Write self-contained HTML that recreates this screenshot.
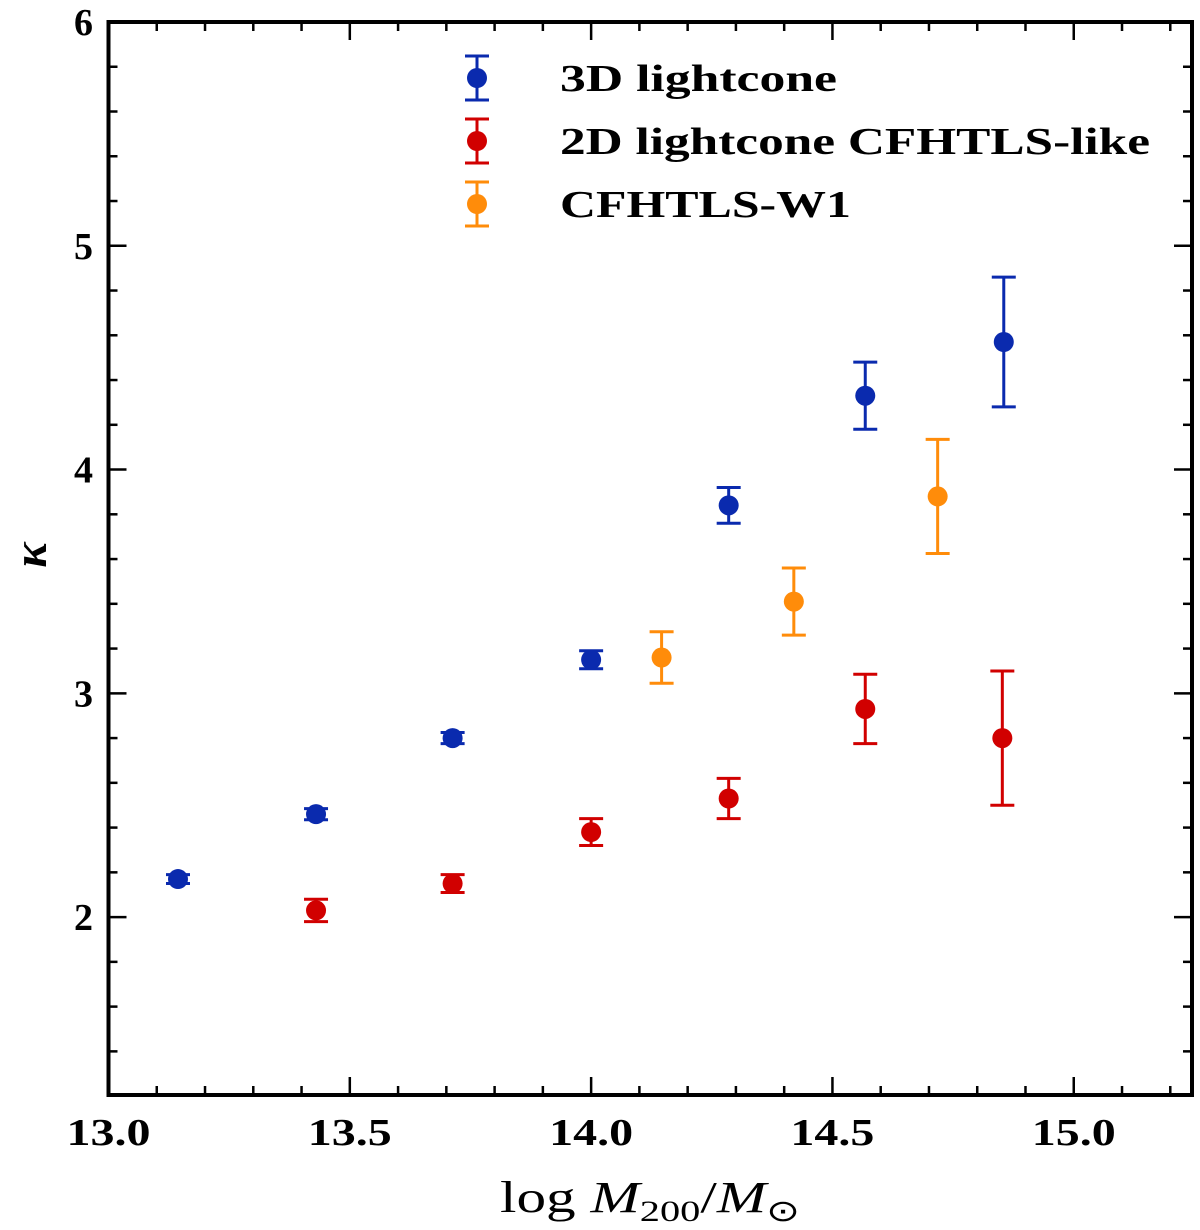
<!DOCTYPE html>
<html><head><meta charset="utf-8"><style>
body{margin:0;background:#fff;}
svg{display:block;font-family:"Liberation Serif",serif;}
</style></head><body>
<svg id="chart" width="1200" height="1230"></svg>
<script>
const xTicks=[13.0,13.5,14.0,14.5,15.0];
const xTickLabels=["13.0","13.5","14.0","14.5","15.0"];
const yTicks=[2,3,4,5,6];
const yTickLabels=["2","3","4","5","6"];
const s3dX=[13.144,13.43,13.713,14.0,14.285,14.568,14.855];
const s3dY=[2.17,2.46,2.80,3.15,3.84,4.33,4.57];
const s3dE=[0.02,0.025,0.025,0.04,0.08,0.15,0.29];
const s2dX=[13.43,13.713,14.0,14.285,14.568,14.852];
const s2dY=[2.03,2.15,2.38,2.53,2.93,2.80];
const s2dE=[0.05,0.04,0.06,0.09,0.155,0.30];
const obsX=[14.146,14.42,14.718];
const obsY=[3.16,3.41,3.88];
const obsE=[0.115,0.15,0.255];

const L=108.5,R=1192,T=22,B=1095,x0=13.0,x1=15.245,y0=1.205,y1=6.0;
const sx=v=>L+(v-x0)/(x1-x0)*(R-L);
const sy=v=>B-(v-y0)/(y1-y0)*(B-T);
const svg=document.getElementById('chart');
const NS='http://www.w3.org/2000/svg';
function mk(tag,attrs,parent){const e=document.createElementNS(NS,tag);for(const k in attrs)e.setAttribute(k,attrs[k]);(parent||svg).appendChild(e);return e;}

const frame=mk('rect',{x:L,y:T,width:R-L,height:B-T,fill:'none',stroke:'#000','stroke-width':4});



const tg=mk('g',{stroke:'#000','stroke-width':2.5});


for(let i=0;i<=22;i++){const v=13.0+i*0.1;if(v>x1)break;const X=sx(v);const maj=i%5===0;const len=maj?18:9;
 mk('line',{x1:X,y1:B,x2:X,y2:B-len},tg);mk('line',{x1:X,y1:T,x2:X,y2:T+len},tg);}
for(let i=0;i<=24;i++){const v=1.2+i*0.2;if(v<y0-1e-6||v>y1+1e-6)continue;const Y=sy(v);const maj=Math.abs(v-Math.round(v))<1e-6;const len=maj?18:9;
 mk('line',{x1:L,y1:Y,x2:L+len,y2:Y},tg);mk('line',{x1:R,y1:Y,x2:R-len,y2:Y},tg);}

xTicks.forEach((v,i)=>{const t=mk('text',{x:sx(v)-42,y:1145,'font-size':38,'font-weight':'bold',textLength:84,lengthAdjust:'spacingAndGlyphs'});t.textContent=xTickLabels[i];
 
 });
yTicks.forEach((v,i)=>{const t=mk('text',{x:93,y:sy(v)+13,'text-anchor':'end','font-size':38,'font-weight':'bold'});t.textContent=yTickLabels[i];
 
 });

const xt=mk('text',{x:500,y:1212,'font-size':44,textLength:300,lengthAdjust:'spacingAndGlyphs'});
xt.innerHTML='log <tspan font-style="italic">M</tspan><tspan font-size="30" dy="9">200</tspan><tspan dy="-9">/</tspan><tspan font-style="italic">M</tspan><tspan font-size="30" dy="9">⊙</tspan>';


const yt=mk('text',{x:0,y:0,'text-anchor':'middle','font-size':48,'font-style':'italic','font-weight':'bold',transform:'translate(46,555) rotate(-90)'});
yt.textContent='κ';



function series(xs,ys,es,color,name){
 const g=mk('g',{stroke:color,fill:color,'stroke-width':3});
 
 
 xs.forEach((x,i)=>{const X=sx(x),Yt=sy(ys[i]+es[i]),Yb=sy(ys[i]-es[i]);
  mk('line',{x1:X,y1:Yt,x2:X,y2:Yb},g);
  mk('line',{x1:X-12,y1:Yt,x2:X+12,y2:Yt},g);
  mk('line',{x1:X-12,y1:Yb,x2:X+12,y2:Yb},g);
  const c=mk('circle',{cx:X,cy:sy(ys[i]),r:10,stroke:'none'},g);
  
  });
}
series(s3dX,s3dY,s3dE,'#0a2aae','series-3d-lightcone');
series(s2dX,s2dY,s2dE,'#d10000','series-2d-lightcone');
series(obsX,obsY,obsE,'#ff8c0a','series-cfhtls-w1');

const leg=[['3D lightcone','#0a2aae',78,277],['2D lightcone CFHTLS-like','#d10000',141,590],['CFHTLS-W1','#ff8c0a',204,291]];
leg.forEach(([lab,c,y,w])=>{const g=mk('g',{stroke:c,fill:c,'stroke-width':3});
 
 
 mk('line',{x1:477,y1:y-22,x2:477,y2:y+22},g);
 mk('line',{x1:465,y1:y-22,x2:489,y2:y-22},g);
 mk('line',{x1:465,y1:y+22,x2:489,y2:y+22},g);
 mk('circle',{cx:477,cy:y,r:10,stroke:'none'},g);
 const t=mk('text',{x:560,y:y+13,'font-size':38,'font-weight':'bold',fill:'#000',stroke:'none',textLength:w,lengthAdjust:'spacingAndGlyphs'},g);t.textContent=lab;});
</script>
</body></html>
